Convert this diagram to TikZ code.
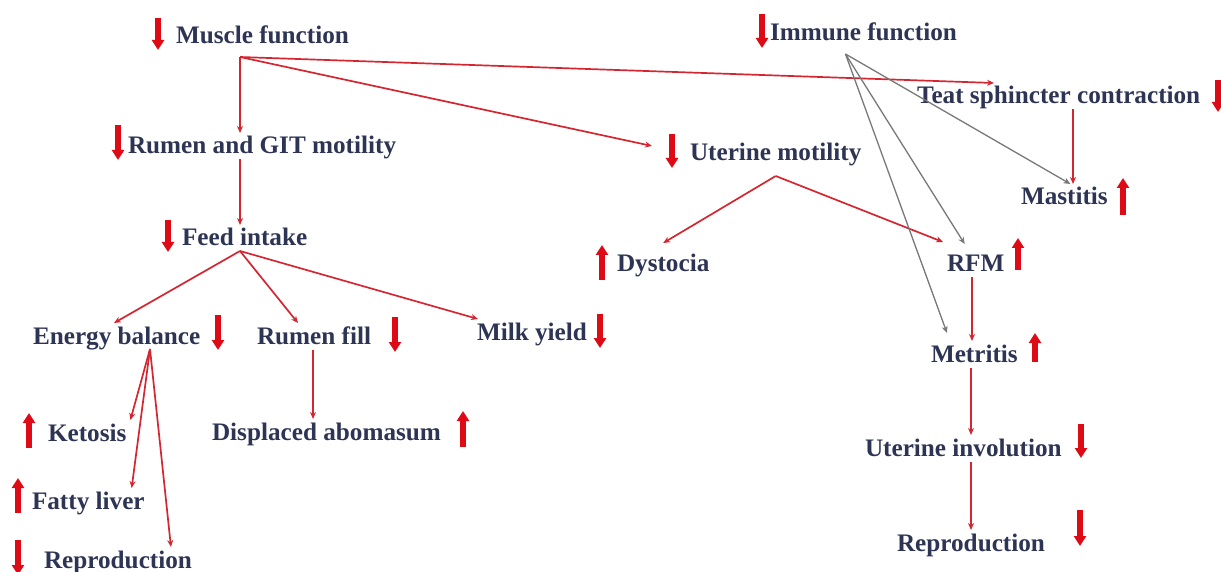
\documentclass[tikz,border=0pt]{standalone}
\usepackage{fontspec}
\setmainfont{Liberation Serif}
\usetikzlibrary{arrows.meta}
\definecolor{txtblue}{RGB}{45,52,84}
\definecolor{linkred}{RGB}{212,38,48}
\definecolor{indred}{RGB}{222,10,22}
\definecolor{linkgray}{RGB}{120,120,120}
\tikzset{
  lbl/.style={anchor=west, xshift=-4pt, inner sep=0pt, outer sep=4pt, text height=17pt, text depth=1pt,
    text=txtblue, font=\fontsize{25.2}{30}\selectfont\bfseries},
  link/.style={linkred, line width=1.7pt, -{Stealth[length=7pt,width=6pt]}},
  glink/.style={linkgray, line width=1.3pt, -{Stealth[length=7pt,width=6pt]}},
  ind/.style={indred, line width=6pt, -{Triangle[length=10pt,width=12pt]}},
}
\begin{document}
\begin{tikzpicture}[x=1pt, y=-1pt]
	\useasboundingbox (0,0) rectangle (1221,572);
	% labels
	\node[lbl] (mf) at (176,36) {Muscle function};
	\node[lbl] (imf) at (770,33) {Immune function};
	\node[lbl] (teat) at (917,96) {Teat sphincter contraction};
	\node[lbl] (rgit) at (128,146) {Rumen and GIT motility};
	\node[lbl] (utm) at (690,153) {Uterine motility};
	\node[lbl] (mast) at (1021,197) {Mastitis};
	\node[lbl] (fi) at (182,238) {Feed intake};
	\node[lbl] (dys) at (617,264) {Dystocia};
	\node[lbl] (rfm) at (947,263) {RFM};
	\node[lbl] (eb) at (33,336) {Energy balance};
	\node[lbl] (rf) at (257,336) {Rumen fill};
	\node[lbl] (my) at (477,332) {Milk yield};
	\node[lbl] (met) at (931,354) {Metritis};
	\node[lbl] (ket) at (48,433) {Ketosis};
	\node[lbl] (da) at (212,432) {Displaced abomasum};
	\node[lbl] (ui) at (865,448) {Uterine involution};
	\node[lbl] (fl) at (32,501) {Fatty liver};
	\node[lbl] (repl) at (44,560) {Reproduction};
	\node[lbl] (repr) at (897,543) {Reproduction};

	% up / down markers
	\draw[ind] (158,18) -- (158,50);
	\draw[ind] (762,14) -- (762,48);
	\draw[ind] (1218,80) -- (1218,112);
	\draw[ind] (118,125) -- (118,160);
	\draw[ind] (672,134) -- (672,168);
	\draw[ind] (1123,215) -- (1123,178);
	\draw[ind] (168,220) -- (168,252);
	\draw[ind] (602,280) -- (602,245);
	\draw[ind] (1018,270) -- (1018,238);
	\draw[ind] (218,315) -- (218,350);
	\draw[ind] (395,317) -- (395,352);
	\draw[ind] (600,314) -- (600,348);
	\draw[ind] (1035,362) -- (1035,333);
	\draw[ind] (29,448) -- (29,413);
	\draw[ind] (463,447) -- (463,411);
	\draw[ind] (1081,424) -- (1081,458);
	\draw[ind] (18,513) -- (18,478);
	\draw[ind] (18,540) -- (18,575);
	\draw[ind] (1080,510) -- (1080,546);

	% branch points
	\coordinate (mf-b) at (240,57);
	\coordinate (fi-b) at (mf-b |- fi.south);
	\coordinate (eb-b) at ([xshift=121pt]eb.south west);
	\coordinate (utm-b) at ([yshift=-10pt]utm.south);
	\coordinate (imf-b) at ([xshift=-18pt,yshift=-8pt]imf.south);
	\coordinate (teat-b) at ([xshift=160pt]teat.south west);
	\coordinate (rf-b) at (313,350);
	\coordinate (rfm-b) at (972,277);
	\coordinate (met-b) at (971,368);
	\coordinate (ui-b) at (971,462);

	% muscle function branch
	\draw[link] (mf-b) -- (mf-b |- rgit.north);
	\draw[link] (mf-b) -- ([xshift=81pt]teat.north west);
	\draw[link] (mf-b) -- ([xshift=-34pt,yshift=7pt]utm.west);
	\draw[link] (mf-b |- rgit.south) -- (mf-b |- fi.north);
	\draw[link] (fi-b) -- ([xshift=85pt]eb.north west);
	\draw[link] (fi-b) -- ([xshift=45pt]rf.north west);
	\draw[link] (fi-b) -- ([xshift=5pt]my.north west);
	\draw[link] (eb-b) -- (ket.north east);
	\draw[link] (eb-b) -- ([xshift=-17pt]fl.north east);
	\draw[link] (eb-b) -- ([xshift=-25pt]repl.north east);
	\draw[link] (rf-b) -- (rf-b |- da.north);

	% uterine branch
	\draw[link] (utm-b) -- ([yshift=8pt]dys.north);
	\draw[link] (utm-b) -- ([yshift=8pt]rfm.north west);
	\draw[link] (teat-b) -- (teat-b |- mast.north);
	\draw[link] (rfm-b) -- (rfm-b |- met.north);
	\draw[link] (met-b) -- (met-b |- ui.north);
	\draw[link] (ui-b) -- (ui-b |- repr.north);

	% immune function
	\draw[glink] (imf-b) -- ([xshift=6pt]mast.north);
	\draw[glink] (imf-b) -- ([xshift=-11pt,yshift=6pt]rfm.north);
	\draw[glink] (imf-b) -- ([xshift=20pt,yshift=8pt]met.north west);
\end{tikzpicture}
\end{document}
